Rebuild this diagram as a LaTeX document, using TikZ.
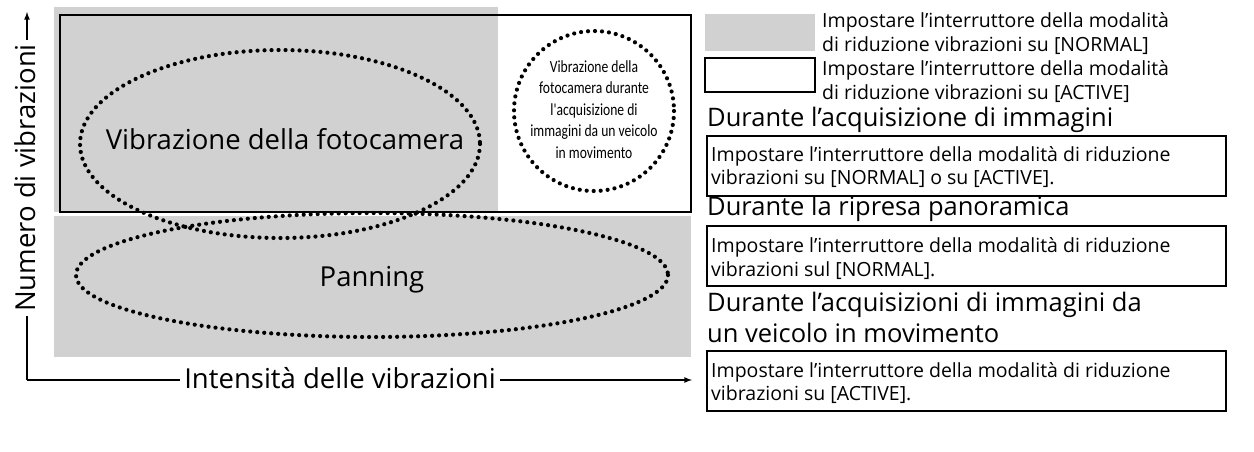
\documentclass[tikz,border=0pt]{standalone}
\usepackage{fontspec}
\setmainfont{Open Sans}
\newfontfamily\cond{Carlito}
\begin{document}
\begin{tikzpicture}[x=1pt,y=-1pt,
  dots/.style={line width=4.2pt,dash pattern=on 0pt off 7pt,line cap=round},
  gray fill/.style={fill=black!18},
  lbox/.style={draw,line width=1.5pt},
  txt/.style={anchor=west,inner sep=0pt,font=\fontsize{19.5}{23}\selectfont},
  head/.style={anchor=west,inner sep=0pt,font=\fontsize{25.5}{29}\selectfont},
  big/.style={font=\fontsize{27.5}{32}\selectfont}]
\useasboundingbox (0,0) rectangle (1254,451);
\fill[gray fill] (54,7) rectangle (498,212);
\fill[gray fill] (54,216) rectangle (691,357);
\draw[line width=1.8pt] (60,15) rectangle (691,212);
\draw[dots] (280,144) ellipse [x radius=200,y radius=94];
\draw[dots] (372,275) ellipse [x radius=296,y radius=62];
\draw[dots] (594,111) circle (80);
\node[big] (cam) at (285,139) {Vibrazione della fotocamera};
\node[big] (pan) at (372,280) {Panning};
\node[align=center,inner sep=0pt] (veh) at (594,111) {\cond\fontsize{17}{21.5}\selectfont\scalebox{0.8}[1]{\begin{tabular}{@{}c@{}}Vibrazione della\\fotocamera durante\\l'acquisizione di\\immagini da un veicolo\\in movimento\end{tabular}}};
% axes
\coordinate (o) at (27,380);
\coordinate (ytop) at (27,12);
\coordinate (xend) at (692,380);
\draw[line width=1.6pt,-latex] (o) -- (ytop);
\draw[line width=1.6pt,-latex] (o) -- (xend);
\node[big,rotate=90,fill=white,inner sep=4pt] (ylab) at (25,178) {Numero di vibrazioni};
\node[big,fill=white,inner sep=4pt] (xlab) at (340,378) {Intensità delle vibrazioni};
% legend
\fill[gray fill] (705,14) rectangle (815,51);
\draw[lbox] (705,58) rectangle (815,92);
\node[txt] (l1a) at (822,22) {Impostare l'interruttore della modalità};
\node[txt] (l1b) at (822,46) {di riduzione vibrazioni su [NORMAL]};
\node[txt] (l2a) at (822,70) {Impostare l'interruttore della modalità};
\node[txt] (l2b) at (822,94) {di riduzione vibrazioni su [ACTIVE]};
\node[head] (h1) at (707,120) {Durante l'acquisizione di immagini};
\draw[lbox] (707,136) rectangle (1226,196);
\node[txt] (b1a) at (711,156) {Impostare l'interruttore della modalità di riduzione};
\node[txt] (b1b) at (711,179) {vibrazioni su [NORMAL] o su [ACTIVE].};
\node[head] (h2) at (707,209) {Durante la ripresa panoramica};
\draw[lbox] (707,226) rectangle (1226,286);
\node[txt] (b2a) at (711,247) {Impostare l'interruttore della modalità di riduzione};
\node[txt] (b2b) at (711,271) {vibrazioni sul [NORMAL].};
\node[head] (h3a) at (707,305) {Durante l'acquisizioni di immagini da};
\node[head] (h3b) at (707,333) {un veicolo in movimento};
\draw[lbox] (707,351) rectangle (1226,411);
\node[txt] (b3a) at (711,372) {Impostare l'interruttore della modalità di riduzione};
\node[txt] (b3b) at (711,395) {vibrazioni su [ACTIVE].};
\end{tikzpicture}
\end{document}
